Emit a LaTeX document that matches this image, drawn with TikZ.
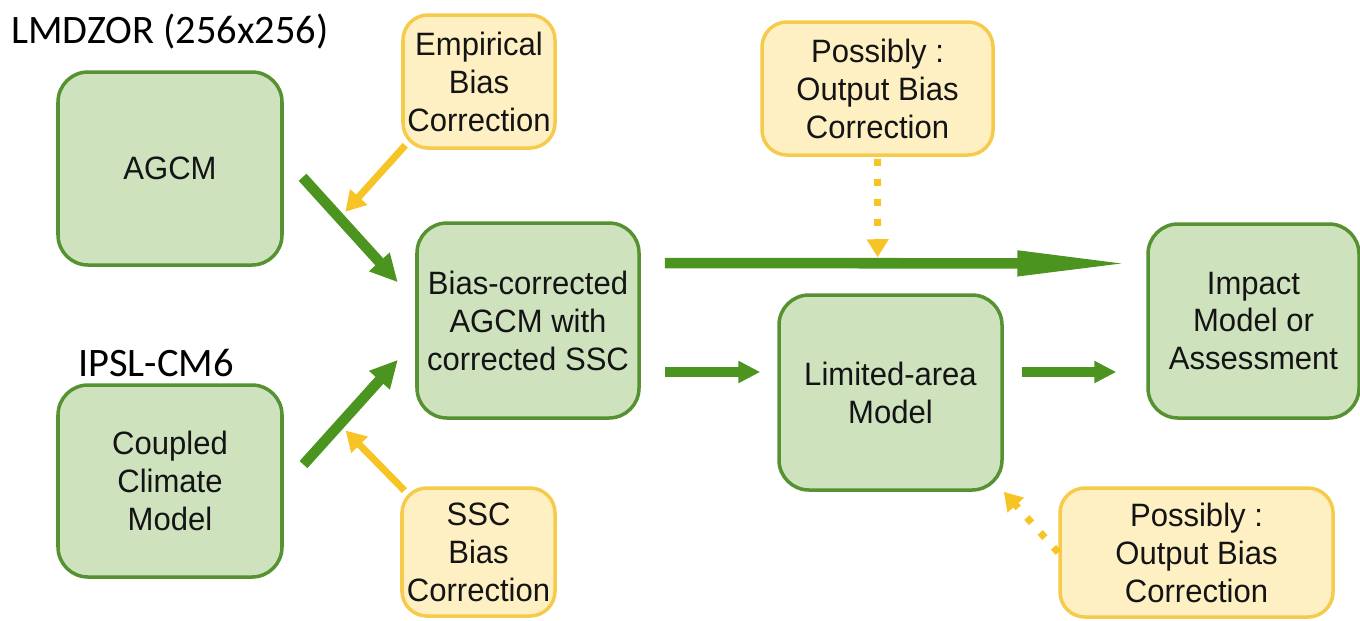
\documentclass[tikz,border=0pt]{standalone}
\usepackage{fontspec}
\setmainfont{Liberation Sans}[FakeStretch=0.96]
\newfontfamily\labelfont{Carlito}
\usetikzlibrary{arrows.meta}
\definecolor{modelfill}{RGB}{206,226,190}
\definecolor{modelline}{RGB}{86,146,50}
\definecolor{flowgreen}{RGB}{76,148,32}
\definecolor{corrfill}{RGB}{255,240,196}
\definecolor{corrline}{RGB}{246,202,74}
\definecolor{corrarrow}{RGB}{247,196,38}

\begin{document}
\begin{tikzpicture}[
    model/.style={draw=modelline, fill=modelfill, line width=2pt, rounded corners=0.6cm,
      align=center, inner sep=0pt, text=black!92, font=\fontsize{18.4pt}{21.6pt}\selectfont},
    correction/.style={model, draw=corrline, fill=corrfill, rounded corners=0.5cm},
    runlabel/.style={anchor=west, inner sep=0pt, font=\labelfont\fontsize{23pt}{27pt}\selectfont},
    flow/.style={draw=flowgreen, line width=6pt, -{Triangle[length=0.55cm,width=0.52cm]}},
    corrflow/.style={draw=corrarrow, line width=4pt, -{Triangle[length=0.4cm,width=0.44cm]}},
    optflow/.style={corrflow, line width=4pt, dash pattern=on 0.14cm off 0.26cm,
      -{Triangle[length=0.36cm,width=0.42cm]}}
  ]
    \useasboundingbox (0,0) rectangle (27.2,-12.4);

    \node[runlabel] (lmdz) at (0.22,-0.63) {LMDZOR (256x256)};
    \node[runlabel] (ipsl) at (1.56,-7.25) {IPSL-CM6};

    \node[model, minimum width=4.48cm, minimum height=3.86cm] (agcm) at (3.40,-3.37) {AGCM};
    \node[model, minimum width=4.48cm, minimum height=3.84cm] (coupled) at (3.40,-9.62) {Coupled\\Climate\\Model};
    \node[model, minimum width=4.44cm, minimum height=3.90cm] (bias) at (10.56,-6.41) {Bias-corrected\\AGCM with\\corrected SSC};
    \node[model, minimum width=4.46cm, minimum height=3.90cm] (lam) at (17.81,-7.85) {Limited-area\\Model};
    \node[model, minimum width=4.22cm, minimum height=3.88cm] (impact) at (25.07,-6.42) {Impact\\Model or\\Assessment};

    \node[correction, minimum width=3.04cm, minimum height=2.66cm] (empirical) at (9.58,-1.63) {Empirical\\Bias\\Correction};
    \node[correction, minimum width=3.06cm, minimum height=2.56cm] (ssc) at (9.57,-11.04) {SSC\\Bias\\Correction};
    \node[correction, minimum width=4.62cm, minimum height=2.66cm] (outtop) at (17.55,-1.77) {Possibly :\\Output Bias\\Correction};
    \node[correction, minimum width=5.46cm, minimum height=2.58cm] (outlam) at (23.93,-11.05) {Possibly :\\Output Bias\\Correction};

    \draw[flow, shorten <=0.56cm, shorten >=0.52cm] ([yshift=0.24cm]agcm.east) -- coordinate[pos=0.425] (hitagcm) ([yshift=0.38cm]bias.west);
    \draw[flow, shorten <=0.59cm, shorten >=0.52cm] ([yshift=-0.11cm]coupled.east) -- coordinate[pos=0.425] (hitcoupled) ([yshift=-0.40cm]bias.west);
    \draw[flow, shorten <=0.48cm, shorten >=0.28cm, -{Triangle[length=2.3cm,width=0.46cm]}] ([yshift=1.15cm]bias.east) -- coordinate[pos=0.4686] (hitdirect) ([yshift=1.15cm]impact.west);
    \draw[flow, line width=5.6pt, shorten <=0.48cm, shorten >=0.34cm, -{Triangle[length=0.44cm,width=0.42cm]}] ([yshift=-1.03cm]bias.east) -- ([yshift=0.41cm]lam.west);
    \draw[flow, line width=5.6pt, shorten <=0.36cm, shorten >=0.6cm, -{Triangle[length=0.44cm,width=0.42cm]}] ([yshift=0.41cm]lam.east) -- ([yshift=-1.02cm]impact.west);

    \draw[corrflow, shorten <=-0.12cm, shorten >=0.17cm] (empirical.south west) -- (hitagcm);
    \draw[corrflow, shorten <=-0.12cm, shorten >=0.17cm] (ssc.north west) -- (hitcoupled);
    \draw[optflow, shorten <=0.04cm, shorten >=0.12cm] (outtop.south) -- (hitdirect);
    \draw[optflow] (outlam.west) -- (lam.south east);
  \end{tikzpicture}
\end{document}
